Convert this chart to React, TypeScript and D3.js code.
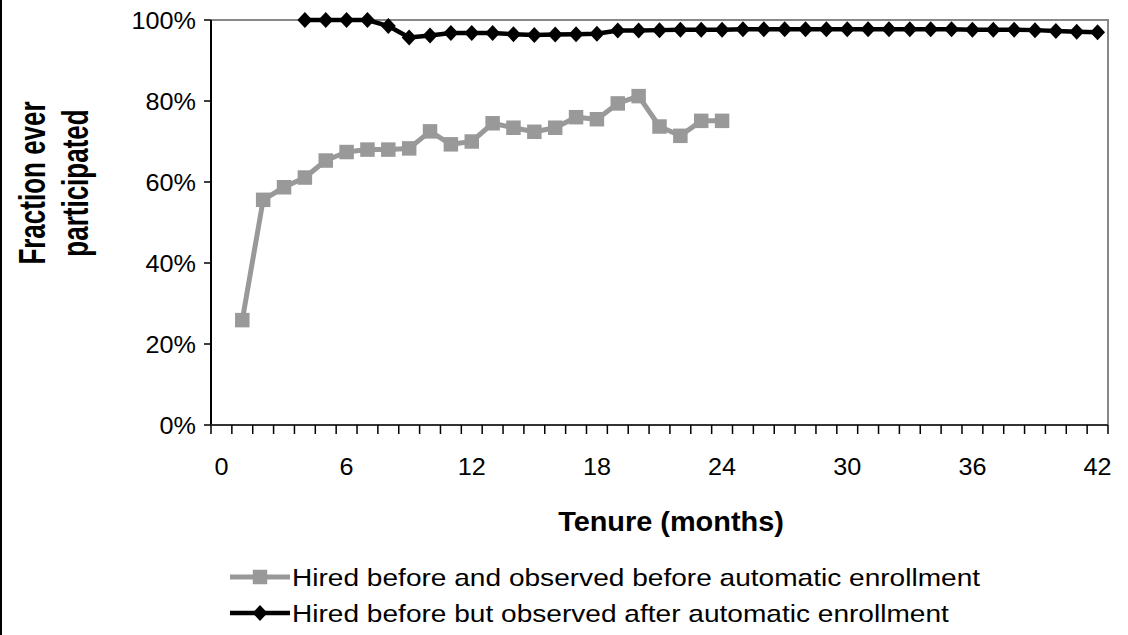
import { useEffect, useRef } from 'react';
import * as d3 from 'd3';

const months = d3.range(0, 43);
const tickLabels = ['0', '6', '12', '18', '24', '30', '36', '42'];
const yTicks = [0, 0.2, 0.4, 0.6, 0.8, 1.0];

const beforeMonths = d3.range(1, 25);
const beforeValues = [
  0.259, 0.556, 0.587, 0.611, 0.653, 0.674, 0.68, 0.68, 0.683, 0.725, 0.693, 0.7,
  0.745, 0.734, 0.724, 0.734, 0.76, 0.755, 0.794, 0.812, 0.737, 0.714, 0.751, 0.751,
];

const afterMonths = d3.range(4, 43);
const afterValues = [
  1.0, 1.0, 1.0, 1.0, 0.985, 0.957, 0.962, 0.968, 0.968, 0.968, 0.965, 0.963, 0.964,
  0.965, 0.966, 0.974, 0.974, 0.975, 0.976, 0.976, 0.976, 0.977, 0.977, 0.977, 0.977,
  0.977, 0.977, 0.977, 0.977, 0.977, 0.977, 0.977, 0.976, 0.976, 0.976, 0.975, 0.973,
  0.971, 0.97,
];

const legendLabels = [
  'Hired before and observed before automatic enrollment',
  'Hired before but observed after automatic enrollment',
];

const W = 1128;
const H = 635;
const FONT = '"Liberation Sans", Arial, sans-serif';
const GRAY = '#999999';

const App = () => {
  const ref = useRef<SVGSVGElement>(null);

  useEffect(() => {
    const svg = d3.select(ref.current);
    svg.selectAll('*').remove();

    const left = 211;
    const right = 1108;
    const top = 20;
    const bottom = 425;

    const x = d3.scaleBand<number>().domain(months).range([left, right]).padding(0);
    const cx = (m: number) => (x(m) as number) + x.bandwidth() / 2;
    const y = d3.scaleLinear().domain([0, 1]).range([bottom, top]);

    // the source text is a little wider than the font's natural shape
    const label = (
      px: number, py: number, txt: string, size: number, sx: number,
      anchor = 'middle', bold = false, dy = '0',
    ) =>
      svg.append('text')
        .attr('transform', `translate(${px},${py}) scale(${sx},1)`)
        .attr('dy', dy)
        .attr('text-anchor', anchor)
        .style('font-family', FONT)
        .style('font-size', `${size}px`)
        .style('font-weight', bold ? 'bold' : 'normal')
        .text(txt);

    svg.append('rect').attr('width', W).attr('height', H).attr('fill', '#fff');
    svg.append('line')
      .attr('x1', 1).attr('x2', 1).attr('y1', 0).attr('y2', H)
      .attr('stroke', '#000').attr('stroke-width', 2);

    // plot frame (top and right)
    svg.append('path')
      .attr('d', `M${left},${top}H${right}V${bottom}`)
      .attr('fill', 'none')
      .attr('stroke', '#888')
      .attr('stroke-width', 2);

    // y axis
    svg.append('line')
      .attr('x1', left).attr('x2', left).attr('y1', top).attr('y2', bottom)
      .attr('stroke', '#000').attr('stroke-width', 2);
    svg.selectAll('.ytick')
      .data(yTicks)
      .enter()
      .append('line')
      .attr('x1', left - 7).attr('x2', left)
      .attr('y1', (d) => y(d)).attr('y2', (d) => y(d))
      .attr('stroke', '#000').attr('stroke-width', 1.5);
    yTicks.forEach((t) => label(196, y(t), d3.format('.0%')(t), 24, 1.05, 'end', false, '0.36em'));

    // x axis
    svg.append('line')
      .attr('x1', left).attr('x2', right).attr('y1', bottom).attr('y2', bottom)
      .attr('stroke', '#333').attr('stroke-width', 2);
    const bounds = [...months.map((m) => x(m) as number), right];
    svg.selectAll('.xtick')
      .data(bounds)
      .enter()
      .append('line')
      .attr('x1', (d) => d).attr('x2', (d) => d)
      .attr('y1', bottom).attr('y2', bottom + 9)
      .attr('stroke', '#000').attr('stroke-width', 1.5);
    tickLabels.forEach((t) => label(cx(+t), 475, t, 24, 1.05));

    // titles
    label(671, 531, 'Tenure (months)', 27, 1.07, 'middle', true);
    const yt = svg.append('text')
      .attr('transform', 'translate(0,183) scale(1.45,1) rotate(-90)')
      .attr('text-anchor', 'middle')
      .style('font-family', FONT)
      .style('font-size', '26px')
      .style('font-weight', 'bold');
    yt.append('tspan').attr('x', 0).attr('y', 31).text('Fraction ever');
    yt.append('tspan').attr('x', 0).attr('y', 60.5).text('participated');

    const line = d3.line<[number, number]>().x((d) => cx(d[0])).y((d) => y(d[1]));
    const square = d3.symbol().type(d3.symbolSquare).size(210);
    const diamond = 'M0,-8L7.5,0L0,8L-7.5,0Z';

    const before = beforeMonths.map((m, i) => [m, beforeValues[i]] as [number, number]);
    const after = afterMonths.map((m, i) => [m, afterValues[i]] as [number, number]);

    svg.append('path')
      .attr('d', line(before))
      .attr('fill', 'none')
      .attr('stroke', GRAY)
      .attr('stroke-width', 5)
      .attr('stroke-linejoin', 'round');
    svg.selectAll('.sq')
      .data(before)
      .enter()
      .append('path')
      .attr('d', square)
      .attr('transform', (d) => `translate(${cx(d[0])},${y(d[1])})`)
      .attr('fill', GRAY);

    svg.append('path')
      .attr('d', line(after))
      .attr('fill', 'none')
      .attr('stroke', '#000')
      .attr('stroke-width', 4.5)
      .attr('stroke-linejoin', 'round');
    svg.selectAll('.dm')
      .data(after)
      .enter()
      .append('path')
      .attr('d', diamond)
      .attr('transform', (d) => `translate(${cx(d[0])},${y(d[1])})`)
      .attr('fill', '#000');

    // legend
    const rows = [
      { text: legendLabels[0], color: GRAY, width: 5, marker: square() as string },
      { text: legendLabels[1], color: '#000', width: 4.5, marker: diamond },
    ];
    rows.forEach((r, i) => {
      const ly = 577 + i * 36;
      svg.append('line')
        .attr('x1', 230).attr('x2', 290).attr('y1', ly).attr('y2', ly)
        .attr('stroke', r.color).attr('stroke-width', r.width);
      svg.append('path')
        .attr('d', r.marker)
        .attr('transform', `translate(260,${ly})`)
        .attr('fill', r.color);
      label(292, ly, r.text, 24, 1.17, 'start', false, '0.36em');
    });
  }, []);

  return (
    <svg
      ref={ref}
      width={W}
      height={H}
      style={{ position: 'absolute', left: 0, top: 0 }}
    />
  );
};

export default App;
